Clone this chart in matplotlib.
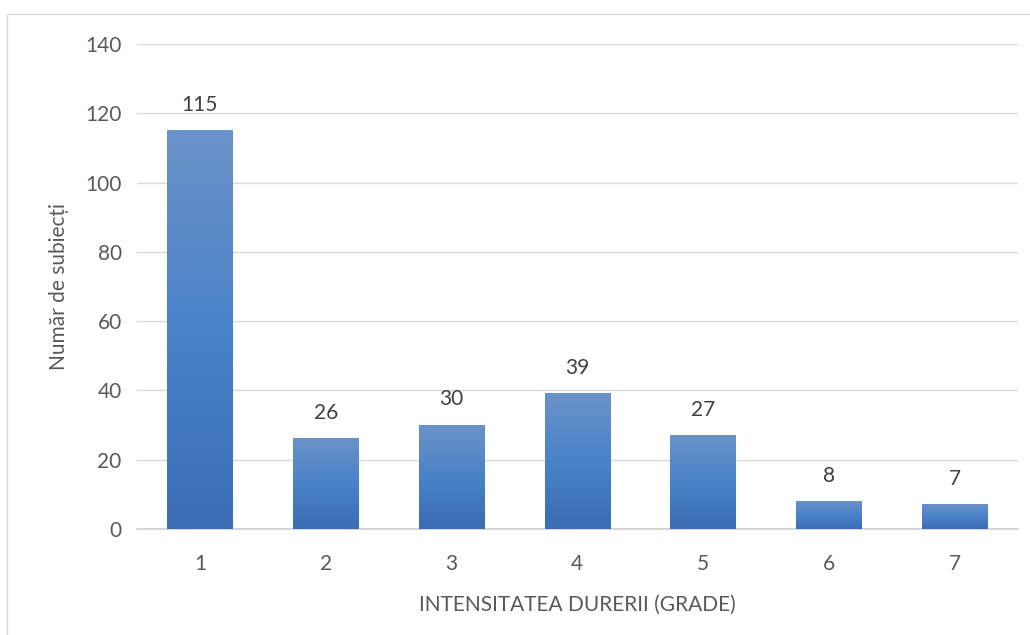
import numpy as np
import matplotlib.pyplot as plt
from matplotlib.colors import LinearSegmentedColormap
from matplotlib.patches import Rectangle

# data
grades = ["1", "2", "3", "4", "5", "6", "7"]
subjects = [115, 26, 30, 39, 27, 8, 7]

plt.rcParams['font.family'] = ['Lato', 'DejaVu Sans']
txt = '#595959'
fs = 15

fig = plt.figure(figsize=(10.30, 6.35), dpi=100)
ax = fig.add_axes([0.133, 0.167, 0.855, 0.7637])

x = np.arange(len(grades))
bars = ax.bar(x, subjects, width=0.52, color='none', zorder=3)

# gradient fill per bar
cmap = LinearSegmentedColormap.from_list('blu', ['#3a6db3', '#4a82c8', '#6a93c9'])
grad = np.linspace(0, 1, 256).reshape(-1, 1)
for b in bars:
    x0, y0 = b.get_x(), b.get_y()
    w, h = b.get_width(), b.get_height()
    ax.imshow(grad, cmap=cmap, aspect='auto', origin='lower',
              extent=[x0, x0 + w, y0, y0 + h], zorder=3)

for xi, v in zip(x, subjects):
    ax.text(xi, v + 4.5, str(v), ha='center', va='bottom', fontsize=fs, color='#404040')

ax.set_xlim(-0.5, len(grades) - 0.5)
ax.set_ylim(0, 140)
ax.set_yticks(range(0, 141, 20))
ax.set_xticks(x)
ax.set_xticklabels(grades)
ax.grid(axis='y', color='#d9d9d9', linewidth=1)
ax.set_axisbelow(True)
for s in ['top', 'right', 'left']:
    ax.spines[s].set_visible(False)
ax.spines['bottom'].set_color('#d0d0d0')
ax.spines['bottom'].set_linewidth(1.2)
ax.tick_params(length=0, labelsize=fs, colors=txt, pad=18)
ax.tick_params(axis='y', pad=11)

ax.set_ylabel("Număr de subiecți", fontsize=fs, color=txt, labelpad=12)
ax.set_xlabel("INTENSITATEA DURERII (GRADE)", fontsize=fs, color=txt, labelpad=15)

# chart border
fig.patches.append(Rectangle((7 / 1030, -0.01), 1.02, 1 - 14 / 635 + 0.01,
                             transform=fig.transFigure, fill=False,
                             edgecolor='#d9d9d9', linewidth=1))

fig.savefig('out.png', dpi=100)
